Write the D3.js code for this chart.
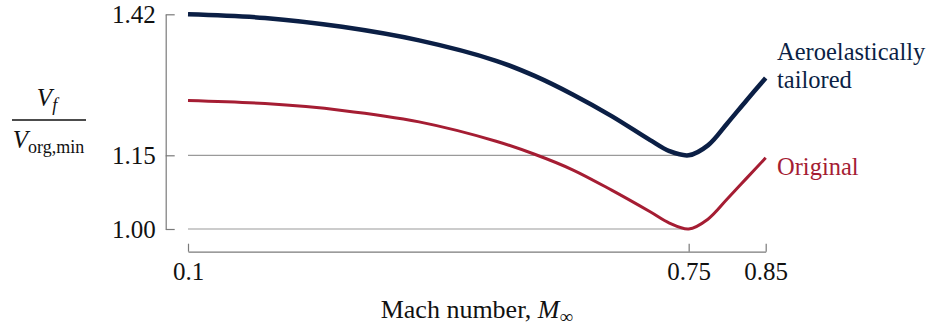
<!DOCTYPE html>
<html>
<head>
<meta charset="utf-8">
<script src="https://cdn.jsdelivr.net/npm/d3@7"></script>
<style>
  body { margin: 0; background: #fff; }
</style>
</head>
<body>
<div id="chart"></div>
<script>
// Mach numbers sampled along the curves
const mach = [0.1, 0.2, 0.3, 0.4, 0.5, 0.55, 0.6, 0.65, 0.7, 0.725, 0.75, 0.775, 0.8, 0.825, 0.85];
// flutter speed ratio, aeroelastically tailored wing
const tailored = [1.42, 1.413, 1.396, 1.370, 1.331, 1.302, 1.266, 1.225, 1.179, 1.158, 1.15, 1.169, 1.211, 1.255, 1.298];
// flutter speed ratio, original wing
const original = [1.255, 1.249, 1.236, 1.214, 1.177, 1.152, 1.120, 1.079, 1.035, 1.012, 1.00, 1.020, 1.061, 1.103, 1.145];

const xTicks = [0.1, 0.75, 0.85];
const yTicks = [1.00, 1.15, 1.42];
const gridValues = [1.00, 1.15];

const colors = { tailored: '#0b1f45', original: '#a51d33' };
const serif = '"Liberation Serif", "Times New Roman", serif';

const width = 930, height = 327;

const svg = d3.select('#chart').append('svg')
  .attr('width', width)
  .attr('height', height)
  .style('font-family', serif);

const x = d3.scaleLinear().domain([0.1, 0.85]).range([188, 765.7]);
// the printed axis is slightly non-uniform, so map each labelled tick to where it sits
const y = d3.scaleLinear().domain([1.00, 1.15, 1.42]).range([229, 155.3, 14.3]);

// grid lines stop at the curve minima (M = 0.75)
svg.append('g').selectAll('line')
  .data(gridValues)
  .join('line')
  .attr('x1', x(0.1))
  .attr('x2', x(0.75))
  .attr('y1', d => y(d))
  .attr('y2', d => y(d))
  .attr('stroke', '#9a9a9a')
  .attr('stroke-width', 1.2);

// y axis, ticks pointing inward
const yAxis = svg.append('g')
  .attr('transform', 'translate(165.7,0)')
  .call(d3.axisLeft(y).tickValues(yTicks).tickFormat(d3.format('.2f'))
    .tickSizeInner(-9).tickSizeOuter(0).tickPadding(10));

// x axis, detached below the plot
const xAxis = svg.append('g')
  .attr('transform', 'translate(0,251.7)')
  .call(d3.axisBottom(x).tickValues(xTicks).tickFormat(d => String(d))
    .tickSizeInner(-8).tickSizeOuter(0).tickPadding(11));

[yAxis, xAxis].forEach(a => {
  a.attr('font-family', null).attr('font-size', null);
  a.select('.domain').attr('stroke', '#7a7a7a').attr('stroke-width', 1.2);
  a.selectAll('.tick line').attr('stroke', '#7a7a7a').attr('stroke-width', 1.2);
  a.selectAll('.tick text')
    .attr('fill', '#111')
    .style('font-size', '25px')
    .style('font-family', serif);
});

// curves
const line = d3.line()
  .x(d => x(d[0]))
  .y(d => y(d[1]))
  .curve(d3.curveCatmullRom.alpha(0.5));

svg.append('path')
  .datum(d3.zip(mach, original))
  .attr('fill', 'none')
  .attr('stroke', colors.original)
  .attr('stroke-width', 3)
  .attr('d', line);

svg.append('path')
  .datum(d3.zip(mach, tailored))
  .attr('fill', 'none')
  .attr('stroke', colors.tailored)
  .attr('stroke-width', 4.5)
  .attr('d', line);

// direct labels
const labels = svg.append('g')
  .style('font-size', '24.5px')
  .style('font-family', serif);
labels.append('text').attr('x', 777).attr('y', 60)
  .attr('fill', colors.tailored).text('Aeroelastically');
labels.append('text').attr('x', 777).attr('y', 88)
  .attr('fill', colors.tailored).text('tailored');
labels.append('text').attr('x', 777).attr('y', 175)
  .attr('fill', colors.original).text('Original');

// x axis title
const xt = svg.append('text')
  .attr('x', (x(0.1) + x(0.85)) / 2)
  .attr('y', 318)
  .attr('text-anchor', 'middle')
  .attr('fill', '#111')
  .style('font-family', serif)
  .style('font-size', '26px');
xt.append('tspan').text('Mach number, ');
xt.append('tspan').style('font-style', 'italic').text('M');
xt.append('tspan').attr('dy', 5).style('font-size', '19px').text('\u221E');

// y axis title as a fraction
const yl = svg.append('g').attr('fill', '#111').style('font-family', serif);
const num = yl.append('text').attr('x', 47).attr('y', 106)
  .attr('text-anchor', 'middle').style('font-size', '25px');
num.append('tspan').style('font-style', 'italic').text('V');
num.append('tspan').attr('dy', 5).style('font-size', '18px').style('font-style', 'italic').text('f');

yl.append('line')
  .attr('x1', 12).attr('x2', 86)
  .attr('y1', 120).attr('y2', 120)
  .attr('stroke', '#111').attr('stroke-width', 1.3);

const den = yl.append('text').attr('x', 48.5).attr('y', 148)
  .attr('text-anchor', 'middle').style('font-size', '25px');
den.append('tspan').style('font-style', 'italic').text('V');
den.append('tspan').attr('dy', 5).style('font-size', '18px').text('org,min');
</script>
</body>
</html>
